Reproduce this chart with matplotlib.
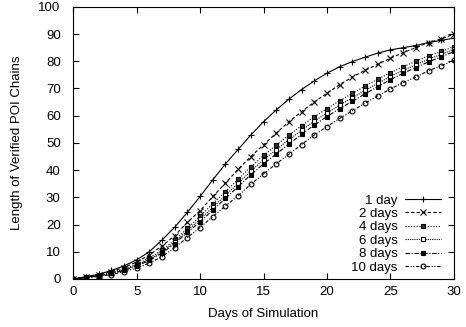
import matplotlib
matplotlib.use("Agg")
import matplotlib.pyplot as plt

plt.rcParams['font.family'] = ['Liberation Sans', 'DejaVu Sans']

days = list(range(0, 31))
labels = ["1 day", "2 days", "4 days", "6 days", "8 days", "10 days"]

d1 = [0, 0.8, 1.7, 3.1, 4.8, 7.0, 10.0, 14.3, 19.0, 24.5, 30.3, 36.4, 42.3, 47.6, 52.9, 57.8,
      62.1, 66.1, 69.6, 72.8, 75.6, 78.0, 79.9, 81.5, 83.0, 84.2, 85.0, 85.8, 86.9, 87.7, 88.5]
d2 = [0, 0.7, 1.5, 2.7, 4.2, 6.2, 8.8, 12.1, 15.9, 20.8, 25.1, 30.3, 35.2, 40.3, 45.0, 49.3,
      53.6, 57.8, 61.5, 65.0, 68.3, 71.4, 74.2, 76.7, 78.9, 81.1, 83.2, 85.0, 86.9, 88.2, 90.0]
d4 = [0, 0.6, 1.3, 2.3, 3.6, 5.4, 7.7, 10.6, 14.2, 18.6, 23.0, 27.6, 32.1, 36.6, 41.2, 45.4,
      49.1, 52.9, 56.3, 59.6, 62.6, 65.5, 68.2, 70.9, 73.4, 75.8, 78.0, 80.0, 82.0, 83.6, 85.4]
d6 = [0, 0.5, 1.2, 2.1, 3.4, 5.0, 7.2, 10.0, 13.5, 17.8, 21.9, 26.3, 30.7, 35.1, 39.6, 43.8,
      47.5, 51.2, 54.6, 58.0, 61.0, 63.9, 66.6, 69.3, 71.9, 74.4, 76.7, 78.7, 80.8, 82.5, 84.4]
d8 = [0, 0.5, 1.1, 2.0, 3.1, 4.7, 6.8, 9.5, 13.0, 17.1, 21.0, 25.3, 29.6, 33.9, 38.3, 42.3,
      45.9, 49.6, 53.1, 56.6, 59.7, 62.6, 65.3, 68.0, 70.7, 73.2, 75.6, 77.7, 79.8, 81.6, 83.6]
d10 = [0, 0.4, 0.9, 1.6, 2.6, 4.0, 5.8, 8.2, 11.5, 15.2, 18.9, 22.9, 26.8, 30.6, 34.8, 38.6,
       42.3, 45.8, 49.4, 52.9, 56.0, 59.0, 61.8, 64.6, 67.3, 69.8, 72.2, 74.2, 76.5, 78.4, 80.3]

series = [d1, d2, d4, d6, d8, d10]
styles = [
    dict(ls='-', marker='+', ms=5, mfc='none'),
    dict(ls=(0, (3, 2)), marker='x', ms=4.5, mfc='none'),
    dict(ls=(0, (1, 1.5)), marker='s', ms=3.5, mfc='#333333'),
    dict(ls=(0, (1, 1)), marker='s', ms=3.5, mfc='white'),
    dict(ls=(0, (4, 1.5, 1, 1.5)), marker='s', ms=3.5, mfc='black'),
    dict(ls=(0, (3, 1.5, 1, 1.5, 1, 1.5)), marker='o', ms=3.5, mfc='none'),
]

fs = 9.5
fig = plt.figure(figsize=(4.66, 3.27), dpi=100)
ax = fig.add_axes([0.157, 0.147, 0.817, 0.832])

for ys, lab, st in zip(series, labels, styles):
    ax.plot(days, ys, color='black', lw=0.8, mew=0.8, mec='black', label=lab, **st)

ax.set_xlim(0, 30)
ax.set_ylim(0, 100)
ax.set_xticks(range(0, 31, 5))
ax.set_yticks(range(0, 101, 10))
ax.tick_params(direction='in', top=True, right=True, labelsize=fs, length=4, width=0.8)
ax.tick_params(axis='y', pad=9)
ax.tick_params(axis='x', pad=5)
for s in ax.spines.values():
    s.set_linewidth(0.8)
ax.set_xlabel("Days of Simulation", fontsize=fs, labelpad=7)
ax.set_ylabel("Length of Verified POI Chains", fontsize=fs, labelpad=11)

leg = ax.legend(loc='lower right', markerfirst=False, frameon=False, fontsize=fs,
                handlelength=2.7, handletextpad=0.6, labelspacing=0.09,
                borderaxespad=0.1, borderpad=0.3, bbox_to_anchor=(0.98, 0.0))
for t in leg.get_texts():
    t.set_ha('right')
leg._legend_box.align = 'right'

fig.savefig("out.png", dpi=100)
